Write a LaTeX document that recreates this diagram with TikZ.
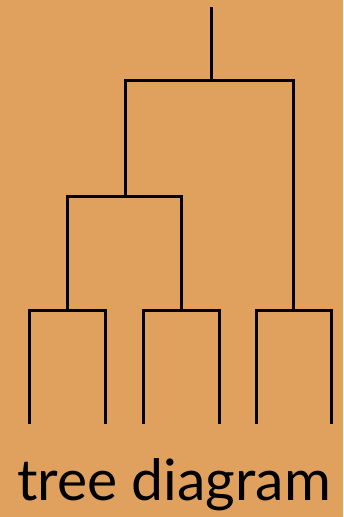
\documentclass[tikz,border=0pt]{standalone}
\usepackage{fontspec}
\setmainfont{Lato}
\definecolor{bgorange}{RGB}{224,160,94}
\begin{document}
\begin{tikzpicture}[x=1pt,y=-1pt,
  branch/.style={line width=3pt,black,line cap=rect},
  label/.style={font=\fontsize{57}{60}\selectfont,inner sep=0pt,anchor=base}]
\fill[bgorange] (0,0) rectangle (343,517);
\useasboundingbox (0,0) rectangle (343,517);
% coordinates
\coordinate (root) at (211,8);
\coordinate (top) at (211,80);
\coordinate (a) at (125,80);
\coordinate (b) at (293,80);
\coordinate (a2) at (125,196);
\coordinate (c) at (67,196);
\coordinate (d) at (181,196);
\coordinate (c2) at (67,310);
\coordinate (d2) at (181,310);
\coordinate (b2) at (293,310);
\coordinate (l1) at (29,310);
\coordinate (l2) at (105,310);
\coordinate (l3) at (143,310);
\coordinate (l4) at (219,310);
\coordinate (l5) at (256,310);
\coordinate (l6) at (331,310);
\coordinate (e1) at (29,422);
\coordinate (e2) at (105,422);
\coordinate (e3) at (143,422);
\coordinate (e4) at (219,422);
\coordinate (e5) at (256,422);
\coordinate (e6) at (331,422);
\draw[branch] (root) -- (top);
\draw[branch] (a2) -- (a) -- (b) -- (b2);
\draw[branch] (c2) -- (c) -- (d) -- (d2);
\draw[branch] (e1) -- (l1) -- (l2) -- (e2);
\draw[branch] (e3) -- (l3) -- (l4) -- (e4);
\draw[branch] (e5) -- (l5) -- (l6) -- (e6);
\node[label] (t) at (174,500) {tree diagram};
\end{tikzpicture}
\end{document}
